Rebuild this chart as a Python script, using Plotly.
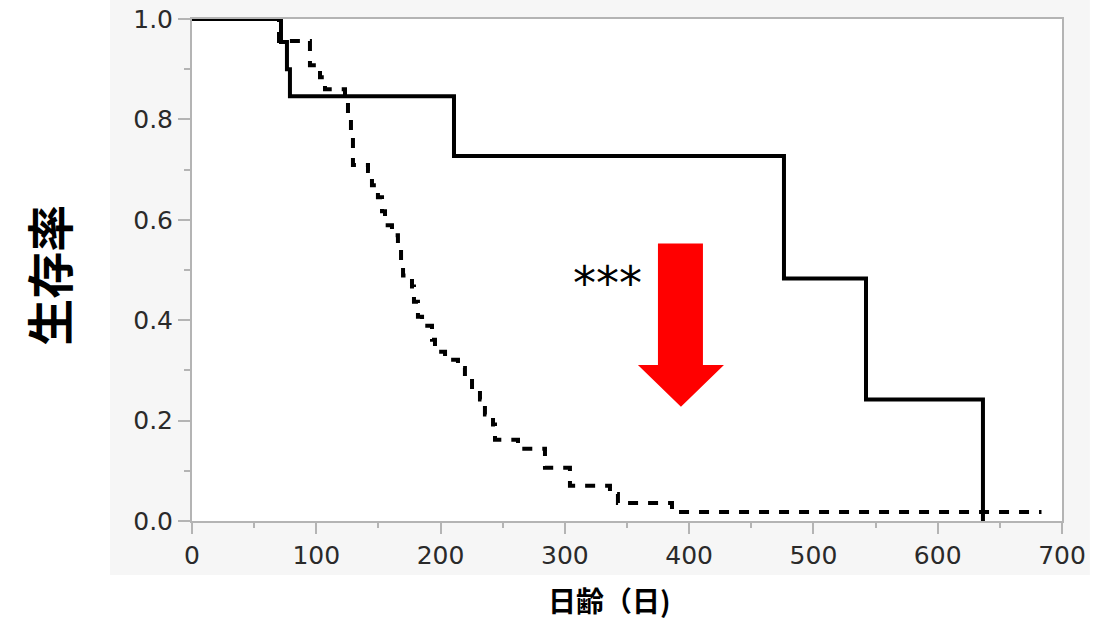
import plotly.graph_objects as go

# Kaplan-Meier survival curves: day of age vs. survival rate
solid_days = [0, 71.6, 76.4, 78.8, 210.8, 476.3, 542.3, 636.4]
solid_surv = [1.0, 0.954, 0.900, 0.846, 0.727, 0.483, 0.242, 0.0]

dashed_days = [0, 70.0, 94.9, 103.0, 107.0, 123.1, 125.5, 127.9, 129.5, 141.6,
               144.8, 149.6, 152.9, 155.3, 160.9, 165.7, 168.2, 169.8, 177.0,
               178.6, 181.8, 185.1, 193.1, 195.5, 203.6, 214.0, 219.6, 225.3,
               231.7, 235.7, 242.2, 243.8, 262.3, 284.0, 304.1, 336.3, 342.7,
               386.2, 683.5]
dashed_surv = [1.0, 0.956, 0.908, 0.884, 0.860, 0.840, 0.810, 0.770, 0.709, 0.697,
               0.669, 0.645, 0.617, 0.589, 0.569, 0.545, 0.511, 0.489, 0.467,
               0.437, 0.407, 0.389, 0.361, 0.337, 0.321, 0.305, 0.283, 0.259,
               0.242, 0.212, 0.192, 0.162, 0.144, 0.106, 0.070, 0.054, 0.036,
               0.018, 0.018]

x_ticks = [0, 100, 200, 300, 400, 500, 600, 700]
y_ticks = [0.0, 0.2, 0.4, 0.6, 0.8, 1.0]

fig = go.Figure()
fig.add_trace(go.Scatter(x=dashed_days, y=dashed_surv, mode="lines", line_shape="hv",
                         line=dict(color="black", width=4, dash="10px,10px"),
                         showlegend=False, hoverinfo="skip"))
fig.add_trace(go.Scatter(x=solid_days, y=solid_surv, mode="lines", line_shape="hv",
                         line=dict(color="black", width=4),
                         showlegend=False, hoverinfo="skip"))

# grey panel behind the plot, white plotting area on top of it
fig.add_shape(type="rect", xref="paper", yref="paper", x0=-0.0943, x1=1.032,
              y0=-0.1078, y1=1.05, fillcolor="#f6f6f6", line_width=0, layer="below")
fig.add_shape(type="rect", xref="paper", yref="paper", x0=0, x1=1, y0=0, y1=1,
              fillcolor="white", line_width=0, layer="below")

# red downward arrow
arrow_path = ("M 374.9 0.553 L 411.1 0.553 L 411.1 0.311 L 428.0 0.311 "
              "L 393.4 0.2275 L 358.8 0.311 L 374.9 0.311 Z")
fig.add_shape(type="path", path=arrow_path, xref="x", yref="y",
              fillcolor="#ff0000", line_width=0)

fig.add_annotation(x=334.7, y=0.474, xref="x", yref="y", text="***", showarrow=False,
                   font=dict(family="DejaVu Sans", size=46, color="black"),
                   xanchor="center", yanchor="middle")

fig.add_annotation(x=-0.167, y=0.49, xref="paper", yref="paper", text="<b>生存率</b>",
                   textangle=-90, showarrow=False,
                   font=dict(family="Noto Sans CJK JP", size=47, color="black"),
                   xanchor="center", yanchor="middle")
fig.add_annotation(x=0.48, y=-0.158, xref="paper", yref="paper", text="<b>日齢（日)</b>",
                   showarrow=False,
                   font=dict(family="Noto Sans CJK JP", size=28, color="black"),
                   xanchor="center", yanchor="middle")

axis_common = dict(showgrid=False, zeroline=False, showline=True, linecolor="#b4b4b4",
                   linewidth=2, mirror=True, ticks="outside", tickcolor="#b4b4b4",
                   tickwidth=2, automargin=False,
                   tickfont=dict(family="DejaVu Sans", size=25, color="#2a2a2a"))

fig.update_xaxes(range=[0, 700], tickvals=x_ticks, ticklen=11,
                 minor=dict(dtick=50, ticklen=5, tickcolor="#b4b4b4", tickwidth=2, ticks="outside"),
                 **axis_common)
fig.update_yaxes(range=[0, 1], tickvals=y_ticks, tickformat=".1f", ticklen=12,
                 minor=dict(dtick=0.1, ticklen=6, tickcolor="#b4b4b4", tickwidth=2, ticks="outside"),
                 **axis_common)

fig.update_layout(width=1110, height=621, margin=dict(l=192, r=48, t=19, b=100),
                  paper_bgcolor="white", plot_bgcolor="rgba(0,0,0,0)")

fig.write_html("out.html")
